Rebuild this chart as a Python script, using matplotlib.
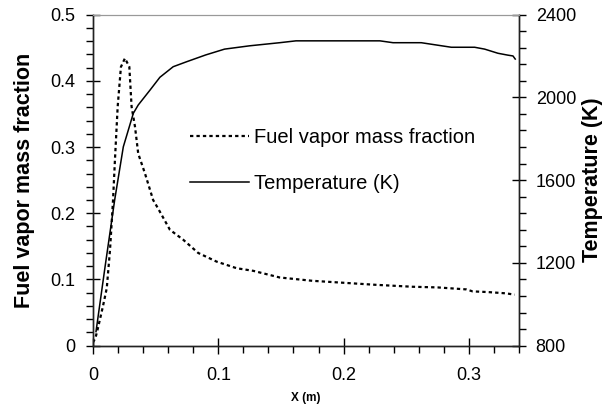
import numpy as np
import matplotlib
matplotlib.use("Agg")
import matplotlib.pyplot as plt
from matplotlib.ticker import MultipleLocator, FuncFormatter

plt.rcParams['font.family'] = ['Liberation Sans', 'DejaVu Sans']

# fuel vapor mass fraction along x
x_fuel = [0.0, 0.002, 0.004, 0.008, 0.011, 0.0136, 0.016, 0.0175, 0.0197,
          0.0223, 0.0255, 0.029, 0.0308, 0.0335, 0.0361, 0.0415, 0.048,
          0.052, 0.0614, 0.072, 0.084, 0.0986, 0.1146, 0.128, 0.149, 0.175,
          0.2, 0.225, 0.255, 0.275, 0.298, 0.303, 0.315, 0.33, 0.3365]
fuel = [0.005, 0.012, 0.027, 0.06, 0.087, 0.145, 0.22, 0.28, 0.361,
        0.421, 0.434, 0.421, 0.361, 0.331, 0.29, 0.26, 0.22,
        0.207, 0.175, 0.16, 0.14, 0.127, 0.117, 0.113, 0.103, 0.098,
        0.095, 0.092, 0.089, 0.088, 0.085, 0.082, 0.081, 0.079, 0.077]

# temperature (K)
x_temp = [0.0024, 0.0096, 0.0173, 0.0242, 0.0322, 0.0361, 0.0455, 0.0534,
          0.064, 0.0747, 0.09, 0.105, 0.125, 0.149, 0.162, 0.229, 0.2395,
          0.262, 0.286, 0.3046, 0.3126, 0.3232, 0.331, 0.3352, 0.337]
temp = [868, 1180, 1504, 1761, 1923, 1963, 2035, 2097,
        2148, 2172, 2205, 2233, 2249, 2264, 2273, 2273, 2264,
        2264, 2242, 2242, 2233, 2213, 2204, 2200, 2185]

fig = plt.figure(figsize=(6.09, 4.16), dpi=100)
ax = fig.add_axes([0.1527, 0.169, 0.6995, 0.796])
ax2 = ax.twinx()

l1, = ax.plot(x_fuel, fuel, color='black', lw=1.6, ls=(0, (1.5, 1.4)),
              label='Fuel vapor mass fraction')
l2, = ax2.plot(x_temp, temp, color='black', lw=1.1,
               label='Temperature (K)')

ax.set_xlim(0, 0.34)
ax.set_ylim(0, 0.5)
ax2.set_ylim(800, 2400)

ax.xaxis.set_major_locator(MultipleLocator(0.1))
ax.xaxis.set_minor_locator(MultipleLocator(0.02))
ax.yaxis.set_major_locator(MultipleLocator(0.1))
ax.yaxis.set_minor_locator(MultipleLocator(0.02))
ax2.yaxis.set_major_locator(MultipleLocator(400))
ax2.yaxis.set_minor_locator(MultipleLocator(80))

fmt = FuncFormatter(lambda v, p: '0' if abs(v) < 1e-9 else f'{v:.1f}')
ax.xaxis.set_major_formatter(fmt)
ax.yaxis.set_major_formatter(fmt)

ax.tick_params(axis='x', which='major', direction='inout', length=12, width=1, labelsize=13, pad=9)
ax.tick_params(axis='x', which='minor', direction='out', length=5, width=1)
ax.tick_params(axis='y', which='major', direction='inout', length=10, width=1, labelsize=13, pad=8)
ax.tick_params(axis='y', which='minor', direction='out', length=5, width=1)
ax2.tick_params(axis='y', which='major', direction='inout', length=10, width=1, labelsize=13, pad=7)
ax2.tick_params(axis='y', which='minor', direction='out', length=5, width=1)

for a in (ax, ax2):
    for s in ('left', 'right', 'bottom'):
        a.spines[s].set_linewidth(1)
        a.spines[s].set_color('#222222')
    a.spines['top'].set_color('#999999')
    a.spines['top'].set_linewidth(0.8)

ax.set_xlabel('X (m)', fontsize=8.5, fontweight='bold', labelpad=6)
ax.set_ylabel('Fuel vapor mass fraction', fontsize=15.5, fontweight='bold', labelpad=11)
ax2.set_ylabel('Temperature (K)', fontsize=15.5, fontweight='bold', labelpad=4)

ax.legend(handles=[l1, l2], loc='upper left', bbox_to_anchor=(0.228, 0.656),
          frameon=False, fontsize=14.5, handlelength=2.9, handletextpad=0.25,
          labelspacing=1.3, borderaxespad=0, borderpad=0)

fig.savefig('out.png', dpi=100)
